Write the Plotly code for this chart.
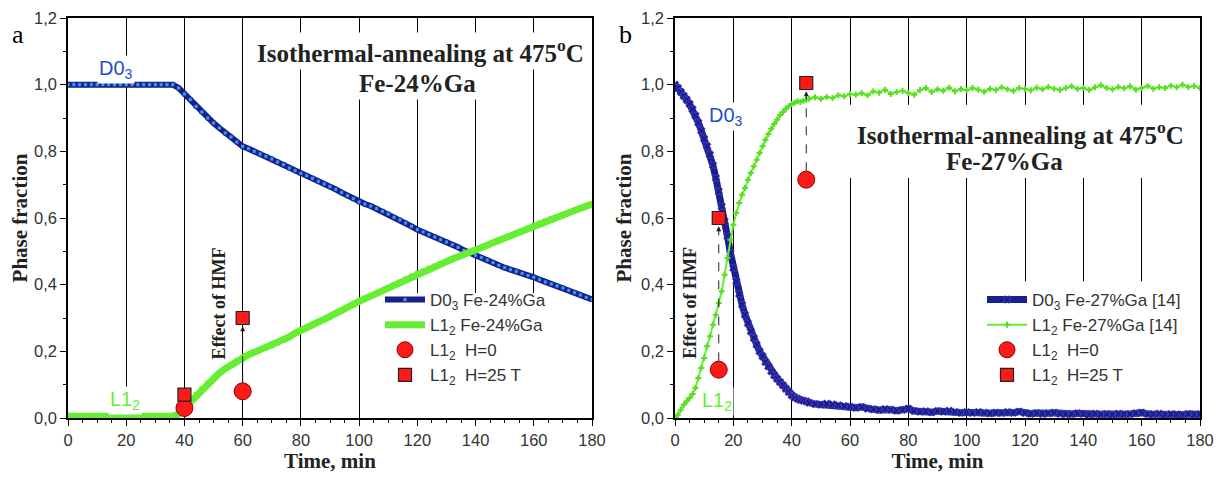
import plotly.graph_objects as go

# ---------------- data ----------------
t_a = list(range(0, 181, 2))
d03_a = [1.0] * 19 + [
    0.99, 0.972, 0.955, 0.935, 0.918, 0.9, 0.885, 0.87, 0.855, 0.843, 0.828,
    0.815, 0.808, 0.8, 0.792, 0.785, 0.777, 0.768, 0.76, 0.75, 0.742,
    0.734, 0.727, 0.719, 0.71, 0.702, 0.694, 0.686, 0.676, 0.667, 0.658,
    0.648, 0.642, 0.636, 0.628, 0.62, 0.612, 0.602, 0.594, 0.585, 0.575,
    0.565, 0.558, 0.55, 0.543, 0.535, 0.528, 0.52, 0.512, 0.503, 0.495,
    0.488, 0.481, 0.474, 0.466, 0.458, 0.451, 0.445, 0.44, 0.434, 0.428,
    0.422, 0.415, 0.408, 0.402, 0.396, 0.39, 0.383, 0.376, 0.369, 0.362, 0.356]
l12_a = [0.005] * 19 + [
    0.012, 0.03, 0.05, 0.07, 0.088, 0.105, 0.12, 0.135, 0.148, 0.16, 0.172,
    0.182, 0.19, 0.197, 0.204, 0.21, 0.217, 0.225, 0.233, 0.243, 0.254,
    0.264, 0.272, 0.28, 0.288, 0.296, 0.304, 0.313, 0.322, 0.332, 0.341,
    0.35, 0.358, 0.366, 0.373, 0.381, 0.39, 0.399, 0.408, 0.417, 0.426,
    0.434, 0.441, 0.449, 0.456, 0.463, 0.47, 0.477, 0.484, 0.49, 0.496,
    0.502, 0.51, 0.518, 0.526, 0.533, 0.54, 0.547, 0.555, 0.562, 0.57,
    0.578, 0.585, 0.592, 0.598, 0.605, 0.611, 0.617, 0.623, 0.629, 0.635, 0.642]

t_b = list(range(0, 46)) + list(range(46, 181, 2))
d03_b = [
    1.0, 0.99, 0.978, 0.966, 0.955, 0.942, 0.926, 0.907, 0.886, 0.862,
    0.838, 0.815, 0.79, 0.758, 0.72, 0.68, 0.635, 0.59, 0.545, 0.495,
    0.45, 0.41, 0.372, 0.34, 0.31, 0.284, 0.26, 0.24, 0.22, 0.2,
    0.185, 0.168, 0.155, 0.14, 0.128, 0.118, 0.108, 0.098, 0.088, 0.078,
    0.068, 0.062, 0.058, 0.054, 0.052, 0.05,
    0.046, 0.042, 0.04, 0.043, 0.041, 0.038, 0.036, 0.034, 0.031, 0.033,
    0.028, 0.026, 0.024, 0.027, 0.025, 0.022, 0.024, 0.028, 0.021, 0.019,
    0.02, 0.017, 0.021, 0.019, 0.022, 0.018, 0.016, 0.017, 0.015, 0.018,
    0.016, 0.014, 0.016, 0.015, 0.018, 0.016, 0.019, 0.015, 0.013, 0.015,
    0.012, 0.014, 0.016, 0.013, 0.011, 0.012, 0.014, 0.012, 0.01, 0.013,
    0.011, 0.012, 0.01, 0.013, 0.011, 0.012, 0.014, 0.016, 0.012, 0.011,
    0.013, 0.01, 0.012, 0.011, 0.01, 0.012, 0.01, 0.011]
l12_b = [
    0.0, 0.01, 0.025, 0.04, 0.05, 0.06, 0.072, 0.09, 0.12, 0.15,
    0.18, 0.215, 0.245, 0.28, 0.31, 0.345, 0.38, 0.43, 0.48, 0.535,
    0.58, 0.615, 0.645, 0.67, 0.69, 0.715, 0.735, 0.755, 0.775, 0.795,
    0.815, 0.835, 0.852, 0.868, 0.882, 0.895, 0.908, 0.918, 0.928, 0.935,
    0.942, 0.946, 0.95, 0.948, 0.952, 0.955,
    0.958, 0.962, 0.957, 0.963, 0.96, 0.968, 0.965, 0.972, 0.97, 0.975,
    0.968, 0.98, 0.976, 0.985, 0.972, 0.978, 0.982, 0.975, 0.97, 0.984,
    0.99, 0.978, 0.986, 0.982, 0.991, 0.98, 0.987, 0.983, 0.99, 0.985,
    0.979, 0.988, 0.984, 0.992, 0.986, 0.981, 0.99, 0.987, 0.983, 0.991,
    0.986, 0.993, 0.988, 0.984, 0.99, 0.995, 0.987, 0.99, 0.984, 0.992,
    0.998, 0.99, 0.986, 0.993, 0.989, 0.995, 0.985, 0.99, 0.996, 0.988,
    0.993, 0.99, 0.997, 0.992, 1.0, 0.993, 0.996, 0.99]

h0_t_a = [40, 60]
h0_v_a = [0.03, 0.08]
h25_t_a = [40, 60]
h25_v_a = [0.07, 0.30]

h0_t_b = [15, 45]
h0_v_b = [0.145, 0.715]
h25_t_b = [15, 45]
h25_v_b = [0.60, 1.005]

# ---------------- styles ----------------
BLUE = "#161f8c"
BLUE_FILL = "#3a9af0"
GREEN = "#66ee33"
RED = "#ff1a1a"
SANS = "Liberation Sans"
SERIF = "Liberation Serif"

fig = go.Figure()

# Panel a
fig.add_trace(go.Scatter(x=t_a, y=d03_a, mode="lines+markers", name="D0<sub>3</sub> Fe-24%Ga",
                         line=dict(color=BLUE, width=6),
                         marker=dict(symbol="square", size=4, color=BLUE_FILL, line=dict(color=BLUE, width=0.8)),
                         xaxis="x", yaxis="y", legend="legend"))
fig.add_trace(go.Scatter(x=t_a, y=l12_a, mode="lines+markers", name="L1<sub>2</sub> Fe-24%Ga",
                         line=dict(color=GREEN, width=7),
                         marker=dict(symbol="square", size=5, color=GREEN),
                         xaxis="x", yaxis="y", legend="legend"))
fig.add_trace(go.Scatter(x=[h0_t_a[1], h25_t_a[1]], y=[h0_v_a[1] + 0.025, h25_v_a[1] - 0.03],
                         mode="lines", line=dict(color="#222", width=1, dash="dash"),
                         showlegend=False, xaxis="x", yaxis="y", hoverinfo="skip"))
fig.add_trace(go.Scatter(x=h0_t_a, y=h0_v_a, mode="markers", name="L1<sub>2</sub>  H=0",
                         marker=dict(symbol="circle", size=17, color=RED, line=dict(color="#8b0000", width=1)),
                         xaxis="x", yaxis="y", legend="legend"))
fig.add_trace(go.Scatter(x=h25_t_a, y=h25_v_a, mode="markers", name="L1<sub>2</sub>  H=25 T",
                         marker=dict(symbol="square", size=13, color=RED, line=dict(color="#222", width=1.2)),
                         xaxis="x", yaxis="y", legend="legend"))

# Panel b
fig.add_trace(go.Scatter(x=t_b, y=d03_b, mode="lines+markers", name="D0<sub>3</sub> Fe-27%Ga [14]",
                         line=dict(color=BLUE, width=7),
                         marker=dict(symbol="x", size=7, color=BLUE, line=dict(color="#6a4fe0", width=0.6)),
                         xaxis="x2", yaxis="y2", legend="legend2"))
fig.add_trace(go.Scatter(x=t_b, y=l12_b, mode="lines+markers", name="L1<sub>2</sub> Fe-27%Ga [14]",
                         line=dict(color=GREEN, width=2),
                         marker=dict(symbol="cross", size=5, color="#55e022"),
                         xaxis="x2", yaxis="y2", legend="legend2"))
for i in range(len(h0_t_b)):
    fig.add_trace(go.Scatter(x=[h0_t_b[i], h25_t_b[i]], y=[h0_v_b[i] + 0.025, h25_v_b[i] - 0.03],
                             mode="lines", line=dict(color="#222", width=1, dash="dash"),
                             showlegend=False, xaxis="x2", yaxis="y2", hoverinfo="skip"))
fig.add_trace(go.Scatter(x=h0_t_b, y=h0_v_b, mode="markers", name="L1<sub>2</sub>  H=0",
                         marker=dict(symbol="circle", size=17, color=RED, line=dict(color="#8b0000", width=1)),
                         xaxis="x2", yaxis="y2", legend="legend2"))
fig.add_trace(go.Scatter(x=h25_t_b, y=h25_v_b, mode="markers", name="L1<sub>2</sub>  H=25 T",
                         marker=dict(symbol="square", size=13, color=RED, line=dict(color="#222", width=1.2)),
                         xaxis="x2", yaxis="y2", legend="legend2"))

# ---------------- axes ----------------
TICKFONT = dict(family=SANS, size=16.5, color="#333")
TITLEFONT = dict(family=SERIF, size=21, color="#222")


def xax(domain, anchor):
    return dict(domain=domain, anchor=anchor, range=[0, 180], dtick=20, tick0=0, automargin=False,
                showgrid=True, gridcolor="black", gridwidth=1, zeroline=False,
                showline=True, linecolor="black", linewidth=1.5, mirror=True,
                ticks="outside", ticklen=6, tickcolor="black",
                minor=dict(dtick=5, ticks="outside", ticklen=3, tickcolor="black", showgrid=False),
                tickfont=TICKFONT,
                title=dict(text="<b>Time, min</b>", font=TITLEFONT, standoff=4))


def yax(domain, anchor):
    return dict(domain=domain, anchor=anchor, range=[0, 1.2], dtick=0.2, tick0=0, tickformat=".1f",
                automargin=False, showgrid=False, zeroline=False,
                showline=True, linecolor="black", linewidth=1.5, mirror=True,
                ticks="outside", ticklen=6, tickcolor="black",
                minor=dict(dtick=0.1, ticks="outside", ticklen=3, tickcolor="black", showgrid=False),
                tickfont=TICKFONT,
                title=dict(text="<b>Phase fraction</b>", font=TITLEFONT, standoff=4))


W, H = 1222, 477
OFF = 8  # page body offset of the rendered figure
top, bot = 18 - OFF, 59 + OFF
PH = H - top - bot

legend_font = dict(family=SANS, size=17, color="#333")

masks = [
    ("x", "y", 110, 179.5, 0.0, 0.375),
    ("x2", "y2", 48, 179.5, 0.72, 0.94),
    ("x2", "y2", 104, 179.5, 0.0, 0.41),
]
shapes = [dict(type="rect", xref=xr, yref=yr, x0=x0, x1=x1, y0=y0, y1=y1,
               fillcolor="white", line=dict(width=0), layer="between")
          for xr, yr, x0, x1, y0, y1 in masks]

TITLE_FONT = dict(family=SERIF, size=25, color="#222")
letter_y = (H - bot - (35 - OFF)) / PH
annotations = [
    dict(text="a", xref="paper", yref="paper", x=(18 - OFF) / W, y=letter_y,
         showarrow=False, font=dict(family=SERIF, size=26, color="black"), xanchor="center", yanchor="middle"),
    dict(text="b", xref="paper", yref="paper", x=(625 - OFF) / W, y=letter_y,
         showarrow=False, font=dict(family=SERIF, size=26, color="black"), xanchor="center", yanchor="middle"),
    dict(text="<b>Isothermal-annealing at 475<sup>o</sup>C</b>", xref="x", yref="y", x=121, y=1.1,
         showarrow=False, font=TITLE_FONT, bgcolor="white", borderpad=2),
    dict(text="<b>Fe-24%Ga</b>", xref="x", yref="y", x=120, y=1.005,
         showarrow=False, font=TITLE_FONT, bgcolor="white", borderpad=2),
    dict(text="<b>Isothermal-annealing at 475<sup>o</sup>C</b>", xref="x2", yref="y2", x=118.5, y=0.855,
         showarrow=False, font=TITLE_FONT),
    dict(text="<b>Fe-27%Ga</b>", xref="x2", yref="y2", x=113, y=0.77,
         showarrow=False, font=TITLE_FONT),
    dict(text="D0<sub>3</sub>", xref="x", yref="y", x=16.5, y=1.045,
         showarrow=False, font=dict(family=SANS, size=20, color="#1f4fc8"), bgcolor="white", borderpad=1),
    dict(text="L1<sub>2</sub>", xref="x", yref="y", x=19.5, y=0.052,
         showarrow=False, font=dict(family=SANS, size=20, color=GREEN), bgcolor="white", borderpad=1),
    dict(text="D0<sub>3</sub>", xref="x2", yref="y2", x=17.5, y=0.905,
         showarrow=False, font=dict(family=SANS, size=20, color="#1f4fc8"), bgcolor="white", borderpad=1),
    dict(text="L1<sub>2</sub>", xref="x2", yref="y2", x=14.5, y=0.05,
         showarrow=False, font=dict(family=SANS, size=20, color=GREEN), bgcolor="white", borderpad=1),
    dict(text="<b>Effect of HMF</b>", xref="x", yref="y", x=52, y=0.345, textangle=-90,
         showarrow=False, font=dict(family=SERIF, size=18, color="#222")),
    dict(text="<b>Effect of HMF</b>", xref="x2", yref="y2", x=5.1, y=0.345, textangle=-90,
         showarrow=False, font=dict(family=SERIF, size=18, color="#222")),
]
arrow_specs = [("x", "y", h25_t_a[1], h25_v_a[1])] + \
              [("x2", "y2", h25_t_b[i], h25_v_b[i]) for i in range(len(h25_t_b))]
for xr, yr, tx, ty in arrow_specs:
    annotations.append(dict(text="", xref=xr, yref=yr, x=tx, y=ty - 0.025,
                            axref=xr, ayref=yr, ax=tx, ay=ty - 0.045,
                            showarrow=True, arrowhead=2, arrowsize=1, arrowwidth=1, arrowcolor="#222"))

fig.update_layout(
    width=W, height=H,
    margin=dict(l=0, r=0, t=top, b=bot, autoexpand=False),
    paper_bgcolor="white", plot_bgcolor="white",
    separators=",.",
    xaxis=xax([(68 - OFF) / W, (592 - OFF) / W], "y"),
    yaxis=yax([0, 1], "x"),
    xaxis2=xax([(675 - OFF) / W, (1200 - OFF) / W], "y2"),
    yaxis2=yax([0, 1], "x2"),
    shapes=shapes,
    annotations=annotations,
    legend=dict(x=(380 - OFF) / W, y=(H - bot - (282 - OFF)) / PH, xanchor="left", yanchor="top",
                bgcolor="rgba(0,0,0,0)", font=legend_font, tracegroupgap=0, itemwidth=40),
    legend2=dict(x=(982 - OFF) / W, y=(H - bot - (282 - OFF)) / PH, xanchor="left", yanchor="top",
                 bgcolor="rgba(0,0,0,0)", font=legend_font, tracegroupgap=0, itemwidth=40),
    showlegend=True,
)

fig.write_html("out.html")
